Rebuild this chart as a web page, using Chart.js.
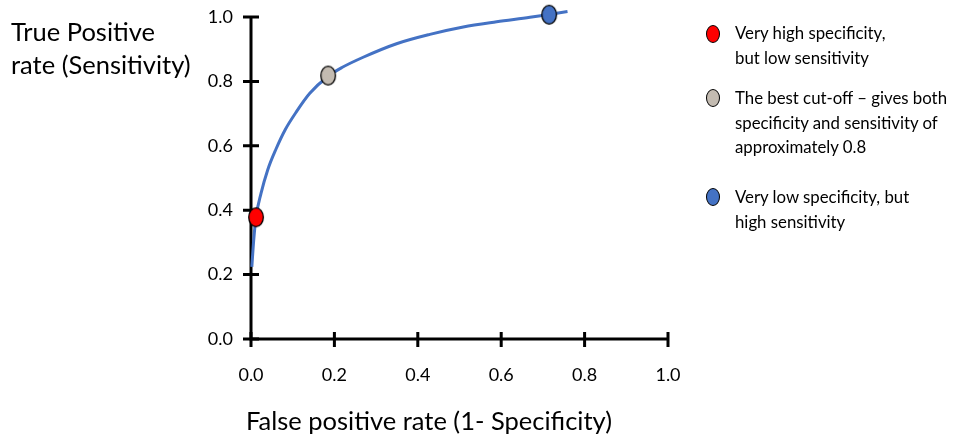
<!DOCTYPE html>
<html>
<head>
<meta charset="utf-8">
<script src="https://cdn.jsdelivr.net/npm/chart.js@4.4.0/dist/chart.umd.min.js"></script>
<style>
  body { margin: 0; background: #fff; font-family: Lato, "Open Sans", sans-serif; color: #000; }
  #wrap { position: relative; width: 980px; height: 436px; }
  #roc { position: absolute; left: 0; top: 0; }
  .txt { position: absolute; white-space: nowrap; }
  #ytitle { left: 11px; top: 15px; font-size: 25.5px; line-height: 33px; }
  #xtitle { left: 429px; top: 405px; font-size: 25.5px; line-height: 30px; transform: translateX(-50%); }
  .leg { position: absolute; left: 735px; font-size: 16.8px; line-height: 24.5px; }
  .dot { position: absolute; left: 706px; width: 14px; height: 18px; border: 1.3px solid #000; border-radius: 50%; box-sizing: border-box; }
</style>
</head>
<body>
<div id="wrap">
  <canvas id="roc" width="980" height="436"></canvas>
  <div id="ytitle" class="txt">True Positive<br>rate (Sensitivity)</div>
  <div id="xtitle" class="txt">False positive rate (1- Specificity)</div>
  <div class="dot" style="top:25px;background:#ff0000"></div>
  <div class="leg" style="top:21px">Very high specificity,<br>but low sensitivity</div>
  <div class="dot" style="top:89px;background:#c3bbb1"></div>
  <div class="leg" style="top:86px">The best cut-off – gives both<br>specificity and sensitivity of<br>approximately 0.8</div>
  <div class="dot" style="top:188px;background:#4472c4"></div>
  <div class="leg" style="top:185px">Very low specificity, but<br>high sensitivity</div>
</div>
<script>
// ROC curve
const fpr = [0.002, 0.0065, 0.012, 0.024, 0.040, 0.060, 0.082, 0.109, 0.141, 0.185, 0.218, 0.269, 0.349, 0.429, 0.509, 0.589, 0.669, 0.715, 0.759];
const tpr = [0.224, 0.307, 0.378, 0.452, 0.525, 0.590, 0.650, 0.706, 0.763, 0.816, 0.843, 0.875, 0.917, 0.946, 0.969, 0.985, 0.999, 1.008, 1.017];

// cut-off points
const cutX = [0.012, 0.185, 0.715];
const cutY = [0.378, 0.818, 1.007];
const cutColors = ["#ff0000", "#c3bbb1", "#4472c4"];

const tickVals = [0, 0.2, 0.4, 0.6, 0.8, 1.0];

function ellipse(fill) {
  const c = document.createElement("canvas");
  c.width = 18; c.height = 22;
  const g = c.getContext("2d");
  g.beginPath();
  g.ellipse(9, 11, 7.3, 9.3, 0, 0, Math.PI * 2);
  g.fillStyle = fill;
  g.fill();
  g.lineWidth = 1.3;
  g.strokeStyle = "#000";
  g.stroke();
  return c;
}

// axes with ticks that cross the line
const crossTicks = {
  id: "crossTicks",
  beforeDatasetsDraw(chart) {
    const ctx = chart.ctx;
    const xs = chart.scales.x, ys = chart.scales.y;
    const a = chart.chartArea;
    ctx.save();
    ctx.strokeStyle = "#000";
    ctx.lineWidth = 3;
    ctx.beginPath();
    ctx.moveTo(a.left, a.top);
    ctx.lineTo(a.left, a.bottom);
    ctx.lineTo(a.right, a.bottom);
    ctx.stroke();
    ctx.beginPath();
    tickVals.forEach(v => {
      const py = ys.getPixelForValue(v);
      ctx.moveTo(a.left - 8, py);
      ctx.lineTo(a.left + 8, py);
      const px = xs.getPixelForValue(v);
      ctx.moveTo(px, a.bottom - 7);
      ctx.lineTo(px, a.bottom + 8);
    });
    ctx.stroke();
    ctx.restore();
  }
};

const pts = cutX.map((x, i) => ({ x: x, y: cutY[i] }));

new Chart(document.getElementById("roc"), {
  type: "scatter",
  data: {
    datasets: [
      {
        data: pts,
        pointStyle: cutColors.map(c => ellipse(c)),
        clip: false,
        order: 0
      },
      {
        data: fpr.map((x, i) => ({ x: x, y: tpr[i] })),
        showLine: true,
        borderColor: "#4472c4",
        borderWidth: 3,
        pointRadius: 0,
        cubicInterpolationMode: "monotone",
        clip: false,
        order: 1
      }
    ]
  },
  options: {
    responsive: false,
    animation: false,
    events: [],
    layout: { padding: { left: 0, top: 17, right: 312, bottom: 0 } },
    plugins: { legend: { display: false }, tooltip: { enabled: false } },
    scales: {
      x: {
        min: 0, max: 1,
        afterFit: s => { s.height = 97; s.paddingLeft = 0; s.paddingRight = 0; },
        afterBuildTicks: s => { s.ticks = tickVals.map(v => ({ value: v })); },
        grid: { display: false, drawTicks: false },
        border: { display: false },
        ticks: { padding: 25, color: "#000", font: { family: "Lato", size: 18 }, callback: v => v.toFixed(1), maxRotation: 0 }
      },
      y: {
        min: 0, max: 1,
        afterFit: s => { s.width = 251; s.paddingTop = 0; s.paddingBottom = 0; },
        afterBuildTicks: s => { s.ticks = tickVals.map(v => ({ value: v })); },
        grid: { display: false, drawTicks: false },
        border: { display: false },
        ticks: { padding: 18, color: "#000", font: { family: "Lato", size: 18 }, callback: v => v.toFixed(1) }
      }
    }
  },
  plugins: [crossTicks]
});
</script>
</body>
</html>
